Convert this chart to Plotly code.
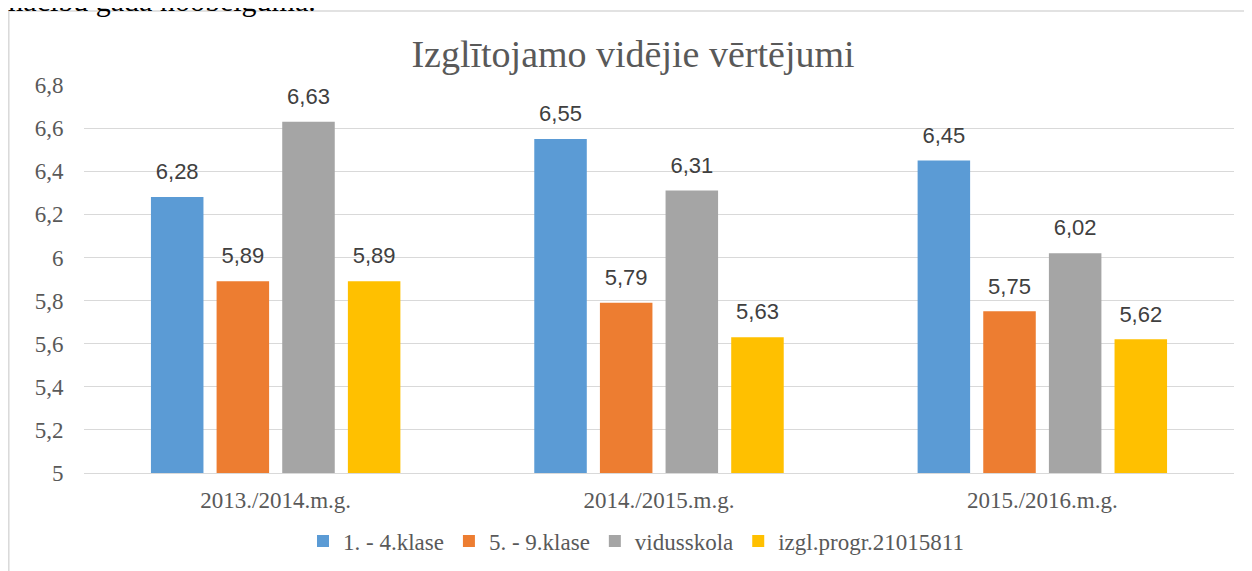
import plotly.graph_objects as go

categories = ["2013./2014.m.g.", "2014./2015.m.g.", "2015./2016.m.g."]
series_names = ["1. - 4.klase", "5. - 9.klase", "vidusskola", "izgl.progr.21015811"]
klase_1_4 = [6.28, 6.55, 6.45]
klase_5_9 = [5.89, 5.79, 5.75]
vidusskola = [6.63, 6.31, 6.02]
izgl_progr = [5.89, 5.63, 5.62]
colors = ["#5B9BD5", "#ED7D31", "#A5A5A5", "#FFC000"]
title_text = "Izglītojamo vidējie vērtējumi"
top_text = "mācību gada noobeigumā."

all_values = [klase_1_4, klase_5_9, vidusskola, izgl_progr]

serif = "Liberation Serif"
sans = "Liberation Sans"

# plot area in figure pixels
L, R, T, B = 76, 1226, 77, 465
W, H = R - L, B - T

def px(x):
    return (x - L) / W

def py(y):
    return (B - y) / H

fig = go.Figure()
for i, (name, vals) in enumerate(zip(series_names, all_values)):
    fig.add_trace(go.Bar(
        x=categories, y=vals, name=name,
        marker=dict(color=colors[i], line=dict(width=0)),
        offsetgroup=str(i), hoverinfo="skip",
    ))
for i, (name, vals) in enumerate(zip(series_names, all_values)):
    fig.add_trace(go.Scatter(
        x=categories, y=vals, mode="markers+text",
        marker=dict(size=18, color="rgba(0,0,0,0)"),
        text=[f"{v:.2f}".replace(".", ",") for v in vals],
        textposition="top center",
        textfont=dict(family=sans, size=22, color="#404040"),
        offsetgroup=str(i), showlegend=False, hoverinfo="skip",
        cliponaxis=False,
    ))

# chart border (light grey frame)
fig.add_shape(type="rect", xref="paper", yref="paper",
              x0=px(0.8), x1=1.06, y0=-0.4, y1=py(3),
              line=dict(color="#d9d9d9", width=1.5), layer="below")

fig.add_annotation(text=top_text, xref="paper", yref="paper",
                   x=px(-10), y=py(11), xanchor="left", yanchor="bottom",
                   showarrow=False,
                   font=dict(family=serif, size=30, color="#000000"))

fig.update_layout(
    width=1252, height=571,
    margin=dict(l=L, r=1252 - R, t=T, b=571 - B, autoexpand=False),
    paper_bgcolor="white", plot_bgcolor="white",
    separators=", ",
    barmode="group", bargap=0.315, bargroupgap=0.2,
    scattermode="group", scattergap=0.315,
    title=dict(text=title_text, xref="container", x=625/1252, xanchor="center",
               y=1 - 46/571, yanchor="middle",
               font=dict(family=serif, size=38, color="#595959")),
    legend=dict(orientation="h", x=px(628), xanchor="center", y=py(533), yanchor="middle",
                font=dict(family=serif, size=23, color="#595959"),
                itemwidth=30, traceorder="normal"),
    xaxis=dict(showgrid=False, showline=True, linecolor="#d9d9d9", linewidth=1,
               automargin=False,
               ticks="outside", ticklen=6, tickcolor="rgba(0,0,0,0)",
               tickfont=dict(family=serif, size=23, color="#595959")),
    yaxis=dict(range=[5, 6.8], dtick=0.2, tick0=5, showgrid=True,
               gridcolor="#d9d9d9", gridwidth=1, zeroline=False,
               automargin=False,
               ticks="outside", ticklen=15, tickcolor="rgba(0,0,0,0)",
               tickfont=dict(family=serif, size=23, color="#595959")),
)

fig.write_html("out.html")
